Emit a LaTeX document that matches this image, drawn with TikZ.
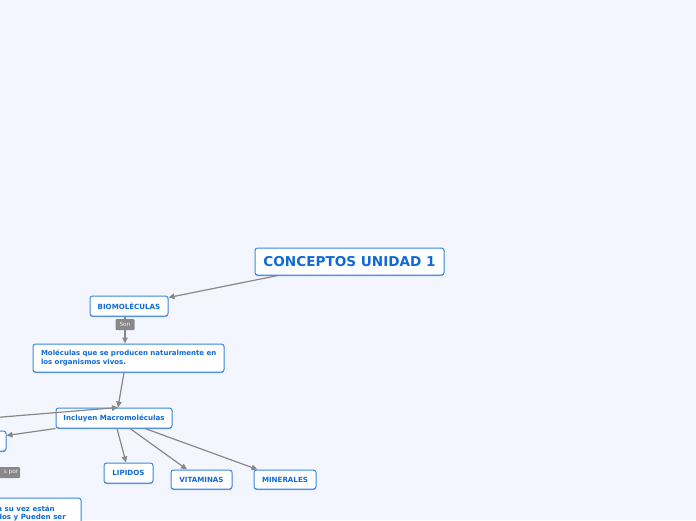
\documentclass[tikz,border=0pt]{standalone}
\usepackage{fontspec}
\setmainfont{DejaVu Sans}
\usetikzlibrary{arrows.meta,shadows}
\definecolor{bgc}{RGB}{243,246,254}
\definecolor{txtblue}{RGB}{16,106,214}
\definecolor{brdblue}{RGB}{58,135,224}
\definecolor{shblue}{RGB}{40,100,190}
\definecolor{lngray}{RGB}{136,136,136}
\tikzset{
  box/.style={draw=brdblue, line width=1pt, fill=white, rounded corners=2.5pt,
    text=txtblue, font=\fontsize{7.1}{9}\selectfont\bfseries, inner sep=0pt,
    drop shadow={shadow xshift=0pt, shadow yshift=-1pt, fill=shblue, opacity=0.6}},
  bigbox/.style={box, font=\fontsize{13.6}{15}\selectfont\bfseries},
  lbl/.style={fill=lngray, text=white, font=\fontsize{5.8}{6}\selectfont, inner sep=0pt,
    minimum width=19pt, minimum height=11pt, rounded corners=1pt},
  arr/.style={draw=lngray, line width=1.2pt, -{Triangle[length=6pt,width=5.5pt]}},
}
\begin{document}
\begin{tikzpicture}[x=1pt,y=-1pt]
\fill[bgc] (0,0) rectangle (696,520);
\useasboundingbox (0,0) rectangle (696,520);
% nodes
\node[bigbox, minimum width=189pt, minimum height=27pt] (concept) at (349.5,261.5) {CONCEPTOS UNIDAD 1};
\node[box, minimum width=78pt, minimum height=20pt] (bio) at (129,306) {BIOMOLÉCULAS};
\node[box, minimum width=191pt, minimum height=28pt, font=\fontsize{7}{9}\selectfont\bfseries,
  text width=181pt, inner xsep=5pt, align=left] (mol) at (128.5,358)
  {\hspace*{3pt}Moléculas que se producen naturalmente en\\\hspace*{3pt}los organismos vivos.};
\node[box, minimum width=116pt, minimum height=20pt] (incl) at (114,418) {Incluyen Macromoléculas};
\node[box, minimum width=60pt, minimum height=20pt] (leftn) at (-24,441) {};
\node[box, minimum width=49pt, minimum height=20pt] (lip) at (128.5,473) {LIPIDOS};
\node[box, minimum width=61pt, minimum height=19pt] (vit) at (201.5,479.5) {VITAMINAS};
\node[box, minimum width=62pt, minimum height=19pt] (min) at (285,479.5) {MINERALES};
\node[box, minimum width=200pt, minimum height=44pt] (botn) at (-19,520) {};
\node[anchor=east, text=txtblue, font=\fontsize{7.1}{9}\selectfont\bfseries, inner sep=0pt] (bt1) at (55,508.5) {a su vez están};
\node[anchor=east, text=txtblue, font=\fontsize{7.1}{9}\selectfont\bfseries, inner sep=0pt] (bt2) at (66,517.5) {dos y Pueden ser};
\node[lbl, minimum width=30pt, minimum height=11pt] (spor) at (5,472.5) {};
\node[anchor=east, text=white!85!lngray, font=\fontsize{5.8}{6}\selectfont, inner sep=0pt] (sport) at (18.5,472.5) {s por};
\coordinate (offl) at (-10,418);
% connectors
\draw[arr] ([xshift=-71.5pt]concept.south) -- ([yshift=-2pt]bio.north east);
\draw[arr] ([xshift=-4pt]bio.south) -- ([xshift=-3.5pt]mol.north) node[lbl, pos=0.3, text=white!85!lngray] (son) {Son};
\draw[arr] ([xshift=-4.5pt]mol.south) -- ([xshift=4pt]incl.north);
\draw[arr] (offl) -- ([xshift=4pt]incl.north);
\draw[arr] (incl.south west) -- ([yshift=-5pt]leftn.north east);
\draw[arr] ([xshift=3pt]incl.south) -- ([xshift=-2.5pt]lip.north);
\draw[arr] ([xshift=16pt]incl.south) -- ([xshift=-14.5pt]vit.north);
\draw[arr] ([xshift=31pt]incl.south) -- ([xshift=4pt]min.north west);
\end{tikzpicture}
\end{document}
